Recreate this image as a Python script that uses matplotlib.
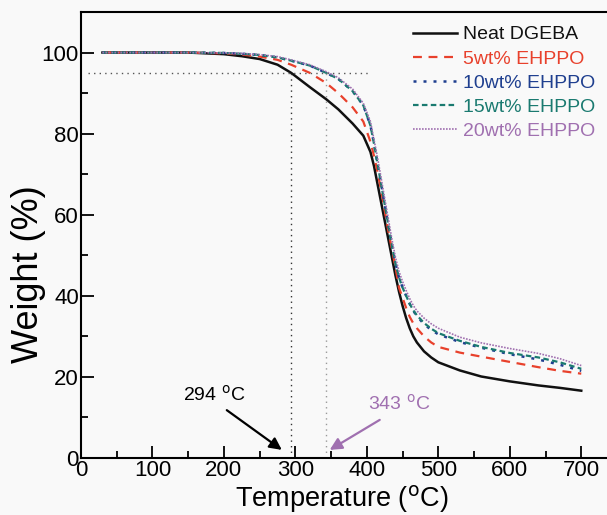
import matplotlib.pyplot as plt
from matplotlib.ticker import MultipleLocator

plt.rcParams['font.family'] = ['Liberation Sans', 'DejaVu Sans']

# temperature grid (C) shared by all curves
temp = [30, 100, 150, 200, 225, 250, 275, 294, 320, 343, 360, 380, 395, 405,
        410, 415, 420, 425, 430, 435, 440, 445, 450, 455, 460, 465, 470,
        480, 490, 500, 530, 560, 600, 640, 670, 700]

# weight (%)
w_neat = [100, 100, 100, 99.6, 99.1, 98.4, 97.0, 95.0, 91.5, 88.5, 86.0, 82.5, 79.5, 75.5,
          72.0, 67.5, 63.0, 58.5, 54.0, 49.5, 45.0, 41.0, 37.5, 34.5, 32.0, 30.0, 28.5,
          26.3, 24.8, 23.6, 21.6, 20.1, 18.9, 17.9, 17.3, 16.6]
w_5 = [100, 100, 100, 99.8, 99.5, 99.0, 98.2, 97.0, 95.0, 92.5, 90.0, 86.5, 83.0, 78.0,
       74.5, 70.5, 66.0, 61.0, 56.0, 51.5, 47.0, 42.0, 39.5, 37.0, 34.8, 33.2, 32.0,
       30.0, 28.5, 27.4, 26.0, 25.0, 23.7, 22.4, 21.5, 20.8]
w_10 = [100, 100, 100, 99.9, 99.7, 99.4, 98.8, 98.0, 96.8, 95.0, 93.5, 90.5, 87.0, 82.0,
        77.5, 72.5, 67.5, 62.5, 57.5, 52.5, 48.0, 44.5, 42.0, 40.0, 38.0, 36.3, 35.0,
        33.0, 31.6, 30.5, 28.6, 27.2, 25.6, 24.3, 23.0, 21.5]
w_15 = [100, 100, 100, 99.9, 99.7, 99.4, 98.8, 98.0, 96.8, 95.0, 93.5, 90.5, 87.0, 82.0,
        77.5, 72.5, 67.5, 62.5, 57.5, 52.5, 48.0, 44.5, 42.0, 40.0, 38.0, 36.4, 35.2,
        33.3, 31.9, 30.8, 28.9, 27.4, 25.9, 24.8, 23.6, 22.0]
w_20 = [100, 100, 100, 99.9, 99.8, 99.5, 99.0, 98.2, 97.0, 95.3, 93.8, 91.0, 87.5, 83.0,
        78.5, 74.0, 69.0, 64.0, 59.0, 54.0, 49.5, 46.0, 43.5, 41.3, 39.3, 37.6, 36.3,
        34.5, 33.1, 32.0, 29.8, 28.4, 27.0, 25.8, 24.5, 22.8]

labels = ['Neat DGEBA', '5wt% EHPPO', '10wt% EHPPO', '15wt% EHPPO', '20wt% EHPPO']
colors = ['#111111', '#e8412c', '#1f3f8f', '#1a7a70', '#a070b0']
styles = ['-', (0, (4, 3)), (0, (1.2, 2.8)), (0, (2.5, 1.5)), (0, (1, 0.8))]
widths = [1.8, 1.6, 1.8, 1.6, 1.2]

fig = plt.figure(figsize=(6.07, 5.15), dpi=100, facecolor='#f9f9f9')
ax = fig.add_axes([81/607, 57/515, 536/607, 446/515])
ax.set_facecolor('#f9f9f9')

for w, lab, c, ls, lw in zip([w_neat, w_5, w_10, w_15, w_20], labels, colors, styles, widths):
    ax.plot(temp, w, color=c, linestyle=ls, linewidth=lw, label=lab)

# 5% weight loss guides
ax.plot([10, 405], [95, 95], color='#555555', linestyle=(0, (1, 3)), linewidth=1)
ax.plot([294, 294], [0, 95], color='#333333', linestyle=(0, (1, 3)), linewidth=1)
ax.plot([343, 343], [0, 95], color='#999999', linestyle=(0, (1, 3)), linewidth=1)

arrow_k = dict(arrowstyle='-|>', color='black', lw=1.6, mutation_scale=18, shrinkA=0, shrinkB=0)
arrow_p = dict(arrow_k, color='#a070b0')
ax.annotate('', xy=(281, 2), xytext=(204, 11.8), arrowprops=arrow_k)
ax.text(186, 13.2, '294 $^{\\rm o}$C', fontsize=14, color='black', ha='center', va='bottom')
ax.annotate('', xy=(348, 2), xytext=(418, 9.4), arrowprops=arrow_p)
ax.text(401, 11.0, '343 $^{\\rm o}$C', fontsize=14, color='#a070b0', ha='left', va='bottom')

ax.set_xlim(0, 750)
ax.set_ylim(0, 110)
ax.xaxis.set_major_locator(MultipleLocator(100))
ax.xaxis.set_minor_locator(MultipleLocator(50))
ax.yaxis.set_major_locator(MultipleLocator(20))
ax.yaxis.set_minor_locator(MultipleLocator(10))
ax.tick_params(which='both', direction='in', width=1.3, labelsize=16, pad=1.5)
ax.tick_params(which='major', length=9)
ax.tick_params(which='minor', length=5)
ax.spines['right'].set_visible(False)
for s in ['left', 'bottom', 'top']:
    ax.spines[s].set_linewidth(1.5)

ax.set_xlabel('Temperature ($^{\\rm o}$C)', fontsize=19.5, labelpad=0)
ax.xaxis.set_label_coords(0.487, -0.056)
ax.set_ylabel('Weight (%)', fontsize=26)
ax.yaxis.set_label_coords(-0.065, 0.413)

ax.legend(loc='upper left', bbox_to_anchor=(403/607, 1 - 16/515), bbox_transform=fig.transFigure,
          frameon=False, fontsize=14, handlelength=2.3, handletextpad=0.3,
          labelspacing=0.34, borderpad=0, labelcolor='linecolor')

fig.savefig('out.png', dpi=100, facecolor=fig.get_facecolor())
